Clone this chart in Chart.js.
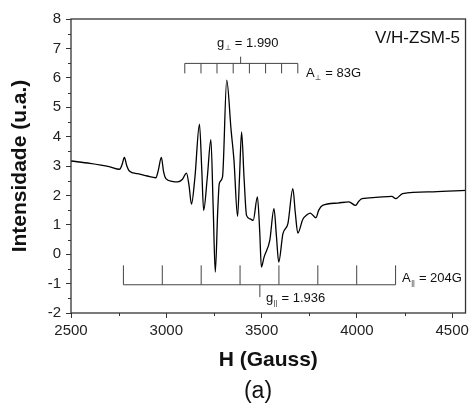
<!DOCTYPE html>
<html><head><meta charset="utf-8">
<script src="https://cdn.jsdelivr.net/npm/chart.js@4/dist/chart.umd.min.js"></script>
<style>html,body{margin:0;padding:0;background:#fff}</style>
</head><body>
<canvas id="c" width="473" height="412"></canvas>
<script>
// EPR spectrum V/H-ZSM-5
const fieldH = [2500,2600,2700,2755,2768,2780,2793,2806,2850,2900,2945,2958,2974,2986,2998,3030,3060,3085,3106,3120,
  3132,3150,3174,3186,3196,3215,3234,3246,3257,3270,3278,3295,3317,3340,3355,3374,3384,3395,3408,3421,
  3440,3456,3478,3490,3499,3513,3543,3565,3578,3590,3612,3638,3664,3677,3690,3716,3740,3755,3785,3800,
  3820,3900,3958,3993,4010,4027,4100,4183,4204,4240,4400,4570];
const intensity = [3.17,3.09,2.98,2.89,3.05,3.29,3.0,2.83,2.74,2.66,2.60,2.85,3.29,2.8,2.57,2.48,2.46,2.55,2.76,2.3,
  1.70,2.6,4.42,2.9,1.49,2.6,3.90,1.6,-0.61,1.5,2.40,2.63,5.92,4.22,3.2,1.29,2.6,4.16,2.6,1.32,
  1.2,1.15,1.95,0.8,-0.44,-0.10,0.47,1.55,0.6,-0.27,0.70,1.04,2.23,1.4,0.72,1.18,1.35,1.40,1.24,1.5,
  1.66,1.74,1.78,1.66,1.8,1.89,1.93,1.97,1.89,2.06,2.12,2.17];
const xTicks = [2500,3000,3500,4000,4500];
const xMinor = [2750,3250,3750,4250];
const yTicks = [-2,-1,0,1,2,3,4,5,6,7,8];
const yMinor = [-1.5,-0.5,0.5,1.5,2.5,3.5,4.5,5.5,6.5,7.5];
// hyperfine combs
const perpLines = [3097,3182,3266,3351,3436,3521,3605,3690];
const perpCenter = 3390;
const parLines = [2775,2979,3183,3387,3591,3795,3999,4203];
const parCenter = 3491;

const FONT = '"Liberation Sans", Arial, sans-serif';

const decor = {
  id: 'decor',
  afterDatasetsDraw(chart) {
    const {ctx, chartArea: a, scales: {x, y}} = chart;
    ctx.save();
    // frame
    ctx.strokeStyle = '#333'; ctx.lineWidth = 1.3;
    ctx.strokeRect(a.left, a.top, a.right - a.left, a.bottom - a.top);
    // minor ticks
    ctx.lineWidth = 1;
    ctx.beginPath();
    xMinor.forEach(v => { const px = Math.round(x.getPixelForValue(v)) + .5; ctx.moveTo(px, a.bottom); ctx.lineTo(px, a.bottom + 3); });
    yMinor.forEach(v => { const py = Math.round(y.getPixelForValue(v)) + .5; ctx.moveTo(a.left, py); ctx.lineTo(a.left - 3, py); });
    ctx.stroke();
    // perpendicular comb
    ctx.strokeStyle = '#444'; ctx.lineWidth = 1;
    ctx.beginPath();
    let yl = y.getPixelForValue(6.49);
    ctx.moveTo(x.getPixelForValue(perpLines[0]), yl); ctx.lineTo(x.getPixelForValue(perpLines[perpLines.length-1]), yl);
    perpLines.forEach(v => { const px = x.getPixelForValue(v); ctx.moveTo(px, yl); ctx.lineTo(px, y.getPixelForValue(6.15)); });
    ctx.moveTo(x.getPixelForValue(perpCenter), yl); ctx.lineTo(x.getPixelForValue(perpCenter), y.getPixelForValue(6.72));
    // parallel comb
    yl = y.getPixelForValue(-1.04);
    ctx.moveTo(x.getPixelForValue(parLines[0]), yl); ctx.lineTo(x.getPixelForValue(parLines[parLines.length-1]), yl);
    parLines.forEach(v => { const px = x.getPixelForValue(v); ctx.moveTo(px, yl); ctx.lineTo(px, y.getPixelForValue(-0.38)); });
    ctx.moveTo(x.getPixelForValue(parCenter), yl); ctx.lineTo(x.getPixelForValue(parCenter), y.getPixelForValue(-1.46));
    ctx.stroke();

    ctx.fillStyle = '#111';
    ctx.textBaseline = 'middle';
    const sub = (main, s, rest, px, py, size) => {
      ctx.textAlign = 'left';
      ctx.font = size + 'px ' + FONT;
      ctx.fillText(main, px, py);
      let w = ctx.measureText(main).width;
      ctx.font = Math.round(size * 0.55) + 'px ' + FONT;
      ctx.fillText(s, px + w + 0.5, py + size * 0.42);
      w += ctx.measureText(s).width + 1;
      ctx.font = size + 'px ' + FONT;
      ctx.fillText(rest, px + w, py);
    };
    sub('g', '\u22A5', ' = 1.990', 217, 43, 13);
    sub('A', '\u22A5', ' = 83G', 306, 73, 13);
    sub('A', '||', ' = 204G', 402, 278, 13);
    sub('g', '||', ' = 1.936', 266, 298, 13);

    ctx.textAlign = 'right';
    ctx.font = '17px ' + FONT;
    ctx.fillText('V/H-ZSM-5', 460, 38);

    // axis titles
    ctx.textAlign = 'center';
    ctx.font = 'bold 21px ' + FONT;
    ctx.fillText('H (Gauss)', (a.left + a.right) / 2, 360);
    ctx.font = '23px ' + FONT;
    ctx.fillText('(a)', 258, 392);
    ctx.save();
    ctx.translate(20, (a.top + a.bottom) / 2);
    ctx.rotate(-Math.PI / 2);
    ctx.font = 'bold 21px ' + FONT;
    ctx.fillText('Intensidade (u.a.)', 0, 0);
    ctx.restore();
    ctx.restore();
  }
};

new Chart(document.getElementById('c'), {
  type: 'line',
  data: {
    datasets: [{
      data: fieldH.map((h, i) => ({x: h, y: intensity[i]})),
      borderColor: '#000', borderWidth: 1.3,
      pointRadius: 0, fill: false,
      cubicInterpolationMode: 'monotone'
    }]
  },
  options: {
    responsive: false, animation: false, devicePixelRatio: 1,
    layout: {padding: {top: 19, right: 4, left: 0, bottom: 0}},
    plugins: {legend: {display: false}, tooltip: {enabled: false}},
    scales: {
      x: {
        type: 'linear', min: 2500, max: 4570,
        afterBuildTicks: s => { s.ticks = xTicks.map(v => ({value: v})); },
        afterFit: s => { s.height = 99; },
        grid: {drawOnChartArea: false, tickLength: 5, tickColor: '#333'},
        border: {display: false},
        ticks: {color: '#222', font: {family: FONT, size: 15}, padding: 4, maxRotation: 0,
          callback: v => String(v)}
      },
      y: {
        min: -2, max: 8,
        afterBuildTicks: s => { s.ticks = yTicks.map(v => ({value: v})); },
        afterFit: s => { s.width = 71; },
        grid: {drawOnChartArea: false, tickLength: 5, tickColor: '#333'},
        border: {display: false},
        ticks: {color: '#222', font: {family: FONT, size: 15}, padding: 5, callback: v => String(v)}
      }
    }
  },
  plugins: [decor]
});
</script>
</body></html>
